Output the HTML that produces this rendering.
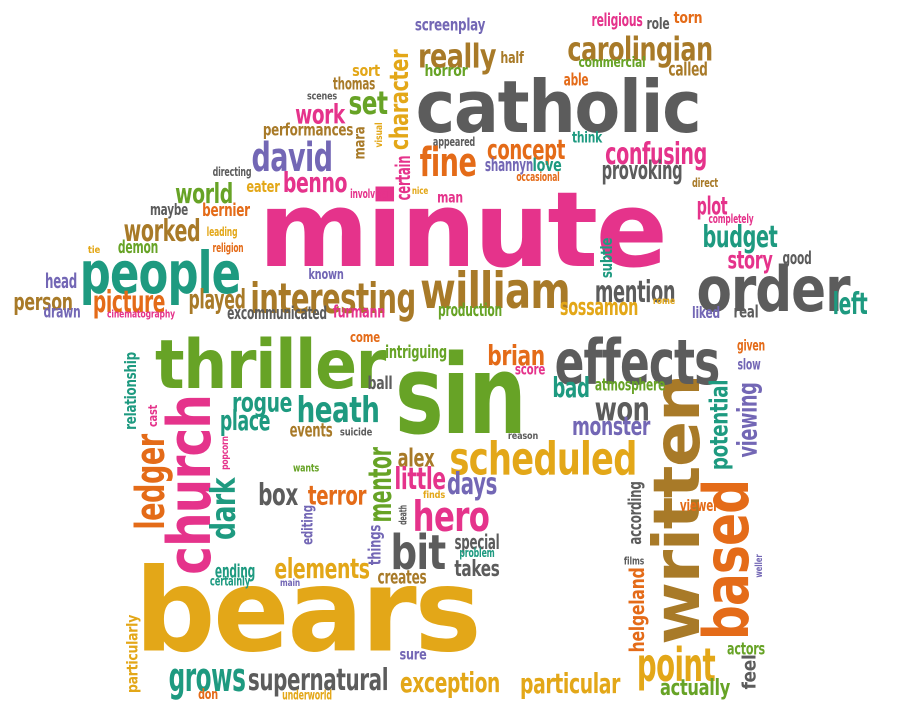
<!DOCTYPE html>
<html><head><meta charset="utf-8">
<style>
html,body{margin:0;padding:0;background:#fff;}
#cloud{position:relative;width:900px;height:705px;overflow:hidden;background:#fff;}
#cloud span{position:absolute;white-space:nowrap;line-height:1;font-family:"DejaVu Sans","Liberation Sans",sans-serif;font-weight:bold;letter-spacing:-0.02em;}
</style></head>
<body>
<div id="cloud"></div>
<script>
const C={P:"#e5338b",G:"#67a326",T:"#1e9a80",B:"#a87a28",Y:"#e3a718",O:"#e46b18",V:"#7367b5",K:"#5c5c5c"};
// word, centerX, centerY, length, fontSize, color, rotated
const words=[
["catholic",558,107,285,72,"K",0],["minute",462,230,407,104,"P",0],["sin",460,395,130,110,"G",0],["bears",307,612,345,115,"Y",0],
["written",678,510,270,64,"B",1],["based",727,560,160,62,"O",1],["thriller",270,366,230,68,"G",0],["church",190,485,180,60,"P",1],
["people",160,273,160,58,"T",0],["effects",637,363,165,62,"K",0],["order",773,290,153,62,"K",0],["william",495,291,150,50,"B",0],
["interesting",333,299,165,42,"B",0],["scheduled",543,459,187,45,"Y",0],["heath",338,411,83,36,"T",0],["rogue",262,403,60,27,"T",0],
["place",245,421,50,28,"T",0],["ledger",151,482,95,40,"O",1],["dark",224,509,62,34,"T",1],["relationship",131,391,78,16,"T",1],
["cast",153,416,22,12,"P",1],["popcorn",226,453,34,10,"P",1],["wants",306,468,26,11,"G",0],["box",278,496,40,30,"K",0],
["terror",337,496,58,27,"O",0],["editing",308,525,40,15,"V",1],["mentor",380,485,75,32,"G",1],["things",376,545,40,17,"V",1],
["death",403,515,20,11,"K",1],["alex",416,458,37,25,"B",0],["little",420,480,51,30,"P",0],["days",472,485,50,30,"V",0],
["finds",434,496,22,10,"Y",0],["hero",451,517,77,42,"P",0],["bit",418,553,55,48,"K",0],["special",477,542,45,20,"K",0],
["problem",477,553,35,12,"T",0],["takes",477,570,45,22,"K",0],["creates",402,578,49,19,"B",0],["elements",322,569,95,28,"Y",0],
["ending",235,572,40,19,"T",0],["certainly",230,582,40,13,"T",0],["main",290,584,20,10,"V",0],["sure",413,655,27,15,"V",0],
["particularly",133,654,78,15,"Y",1],["grows",207,678,77,40,"T",0],["supernatural",318,681,140,30,"K",0],["don",208,695,20,14,"O",0],
["underworld",307,696,50,13,"Y",0],["exception",450,683,100,28,"Y",0],["particular",570,684,100,28,"Y",0],["point",676,665,78,46,"Y",0],
["actually",695,689,70,22,"G",0],["feel",750,672,35,19,"K",1],["actors",746,650,38,17,"G",0],["helgeland",637,610,85,20,"O",1],
["films",634,561,20,11,"K",0],["according",636,513,63,18,"K",1],["viewer",699,506,38,16,"O",0],["weller",760,566,23,10,"V",1],
["potential",719,425,90,25,"T",1],["viewing",748,420,75,27,"V",1],["given",751,346,28,15,"O",0],["slow",749,365,23,15,"V",0],
["brian",516,356,57,28,"O",0],["score",530,370,30,15,"P",0],["bad",571,388,37,28,"T",0],["atmosphere",630,386,70,17,"G",0],
["won",622,409,55,33,"K",0],["monster",611,427,78,26,"V",0],["reason",523,437,30,10,"K",0],["come",365,338,30,14,"O",0],
["intriguing",416,353,62,18,"G",0],["ball",380,384,25,18,"K",0],["events",311,431,43,19,"B",0],["suicide",356,432,32,11,"K",0],
["sort",366,71,28,16,"Y",0],["thomas",354,85,42,17,"B",0],["scenes",322,96,30,11,"K",0],["set",368,103,39,32,"G",0],
["character",400,100,100,26,"Y",1],["work",320,115,50,27,"P",0],["performances",308,131,90,17,"B",0],["mara",360,143,33,15,"B",1],
["visual",380,135,25,10,"Y",1],["certain",403,178,45,20,"P",1],["david",292,158,81,40,"V",0],["directing",232,172,39,12,"K",0],
["eater",263,187,33,16,"Y",0],["benno",315,183,64,28,"P",0],["involving",369,194,38,12,"P",0],["nice",420,192,16,10,"Y",0],
["world",204,194,58,28,"G",0],["maybe",169,210,38,16,"K",0],["bernier",226,211,48,18,"O",0],["worked",162,232,77,30,"B",0],
["leading",222,232,31,12,"Y",0],["religion",228,248,31,12,"O",0],["demon",138,248,40,18,"G",0],["tie",94,251,12,10,"Y",0],
["head",61,281,32,20,"V",0],["person",43,302,59,24,"B",0],["drawn",62,313,37,17,"V",0],["picture",129,303,72,30,"O",0],
["cinematography",141,314,68,11,"P",0],["played",217,300,57,27,"B",0],["excommunicated",277,314,100,18,"K",0],["furmann",359,313,52,17,"P",0],
["known",326,275,35,14,"V",0],["screenplay",450,26,70,17,"V",0],["really",457,56,78,33,"B",0],["half",512,58,23,16,"B",0],
["horror",446,71,43,16,"G",0],["religious",617,21,51,18,"P",0],["role",658,24,23,16,"K",0],["torn",688,18,29,16,"O",0],
["carolingian",640,49,145,33,"B",0],["commercial",612,63,67,14,"G",0],["called",688,70,39,19,"B",0],["able",576,81,25,17,"O",0],
["appeared",454,142,42,12,"K",0],["think",587,138,30,15,"T",0],["concept",526,150,78,28,"O",0],["fine",448,163,57,40,"O",0],
["shannyn",509,166,48,18,"V",0],["love",547,166,29,18,"T",0],["occasional",538,177,43,12,"O",0],["confusing",656,155,102,30,"P",0],
["provoking",642,171,81,26,"K",0],["direct",705,183,26,12,"B",0],["man",450,198,26,15,"P",0],["plot",712,206,31,25,"P",0],
["completely",731,219,45,12,"P",0],["budget",740,238,75,30,"T",0],["story",750,260,45,25,"P",0],["good",797,259,29,18,"K",0],
["subtle",607,258,40,16,"T",1],["mention",635,293,80,30,"K",0],["rome",664,302,22,10,"Y",0],["sossamon",599,307,78,24,"Y",0],
["production",470,311,64,18,"G",0],["liked",706,313,28,16,"V",0],["real",746,313,25,17,"K",0],["left",850,305,35,30,"T",0]
];
const cloud=document.getElementById('cloud');
words.forEach(w=>{
  const s=document.createElement('span');
  s.textContent=w[0];
  
  
  s.style.fontSize=w[4]+'px';
  s.style.color=C[w[5]];
  s.style.left=w[1]+'px';
  s.style.top=w[2]+'px';
  cloud.appendChild(s);
  const sc=w[3]/s.offsetWidth;
  s.style.transform='translate(-50%,-50%)'+(w[6]?' rotate(-90deg)':'')+' scaleX('+sc.toFixed(3)+')';
});
</script>
</body></html>
